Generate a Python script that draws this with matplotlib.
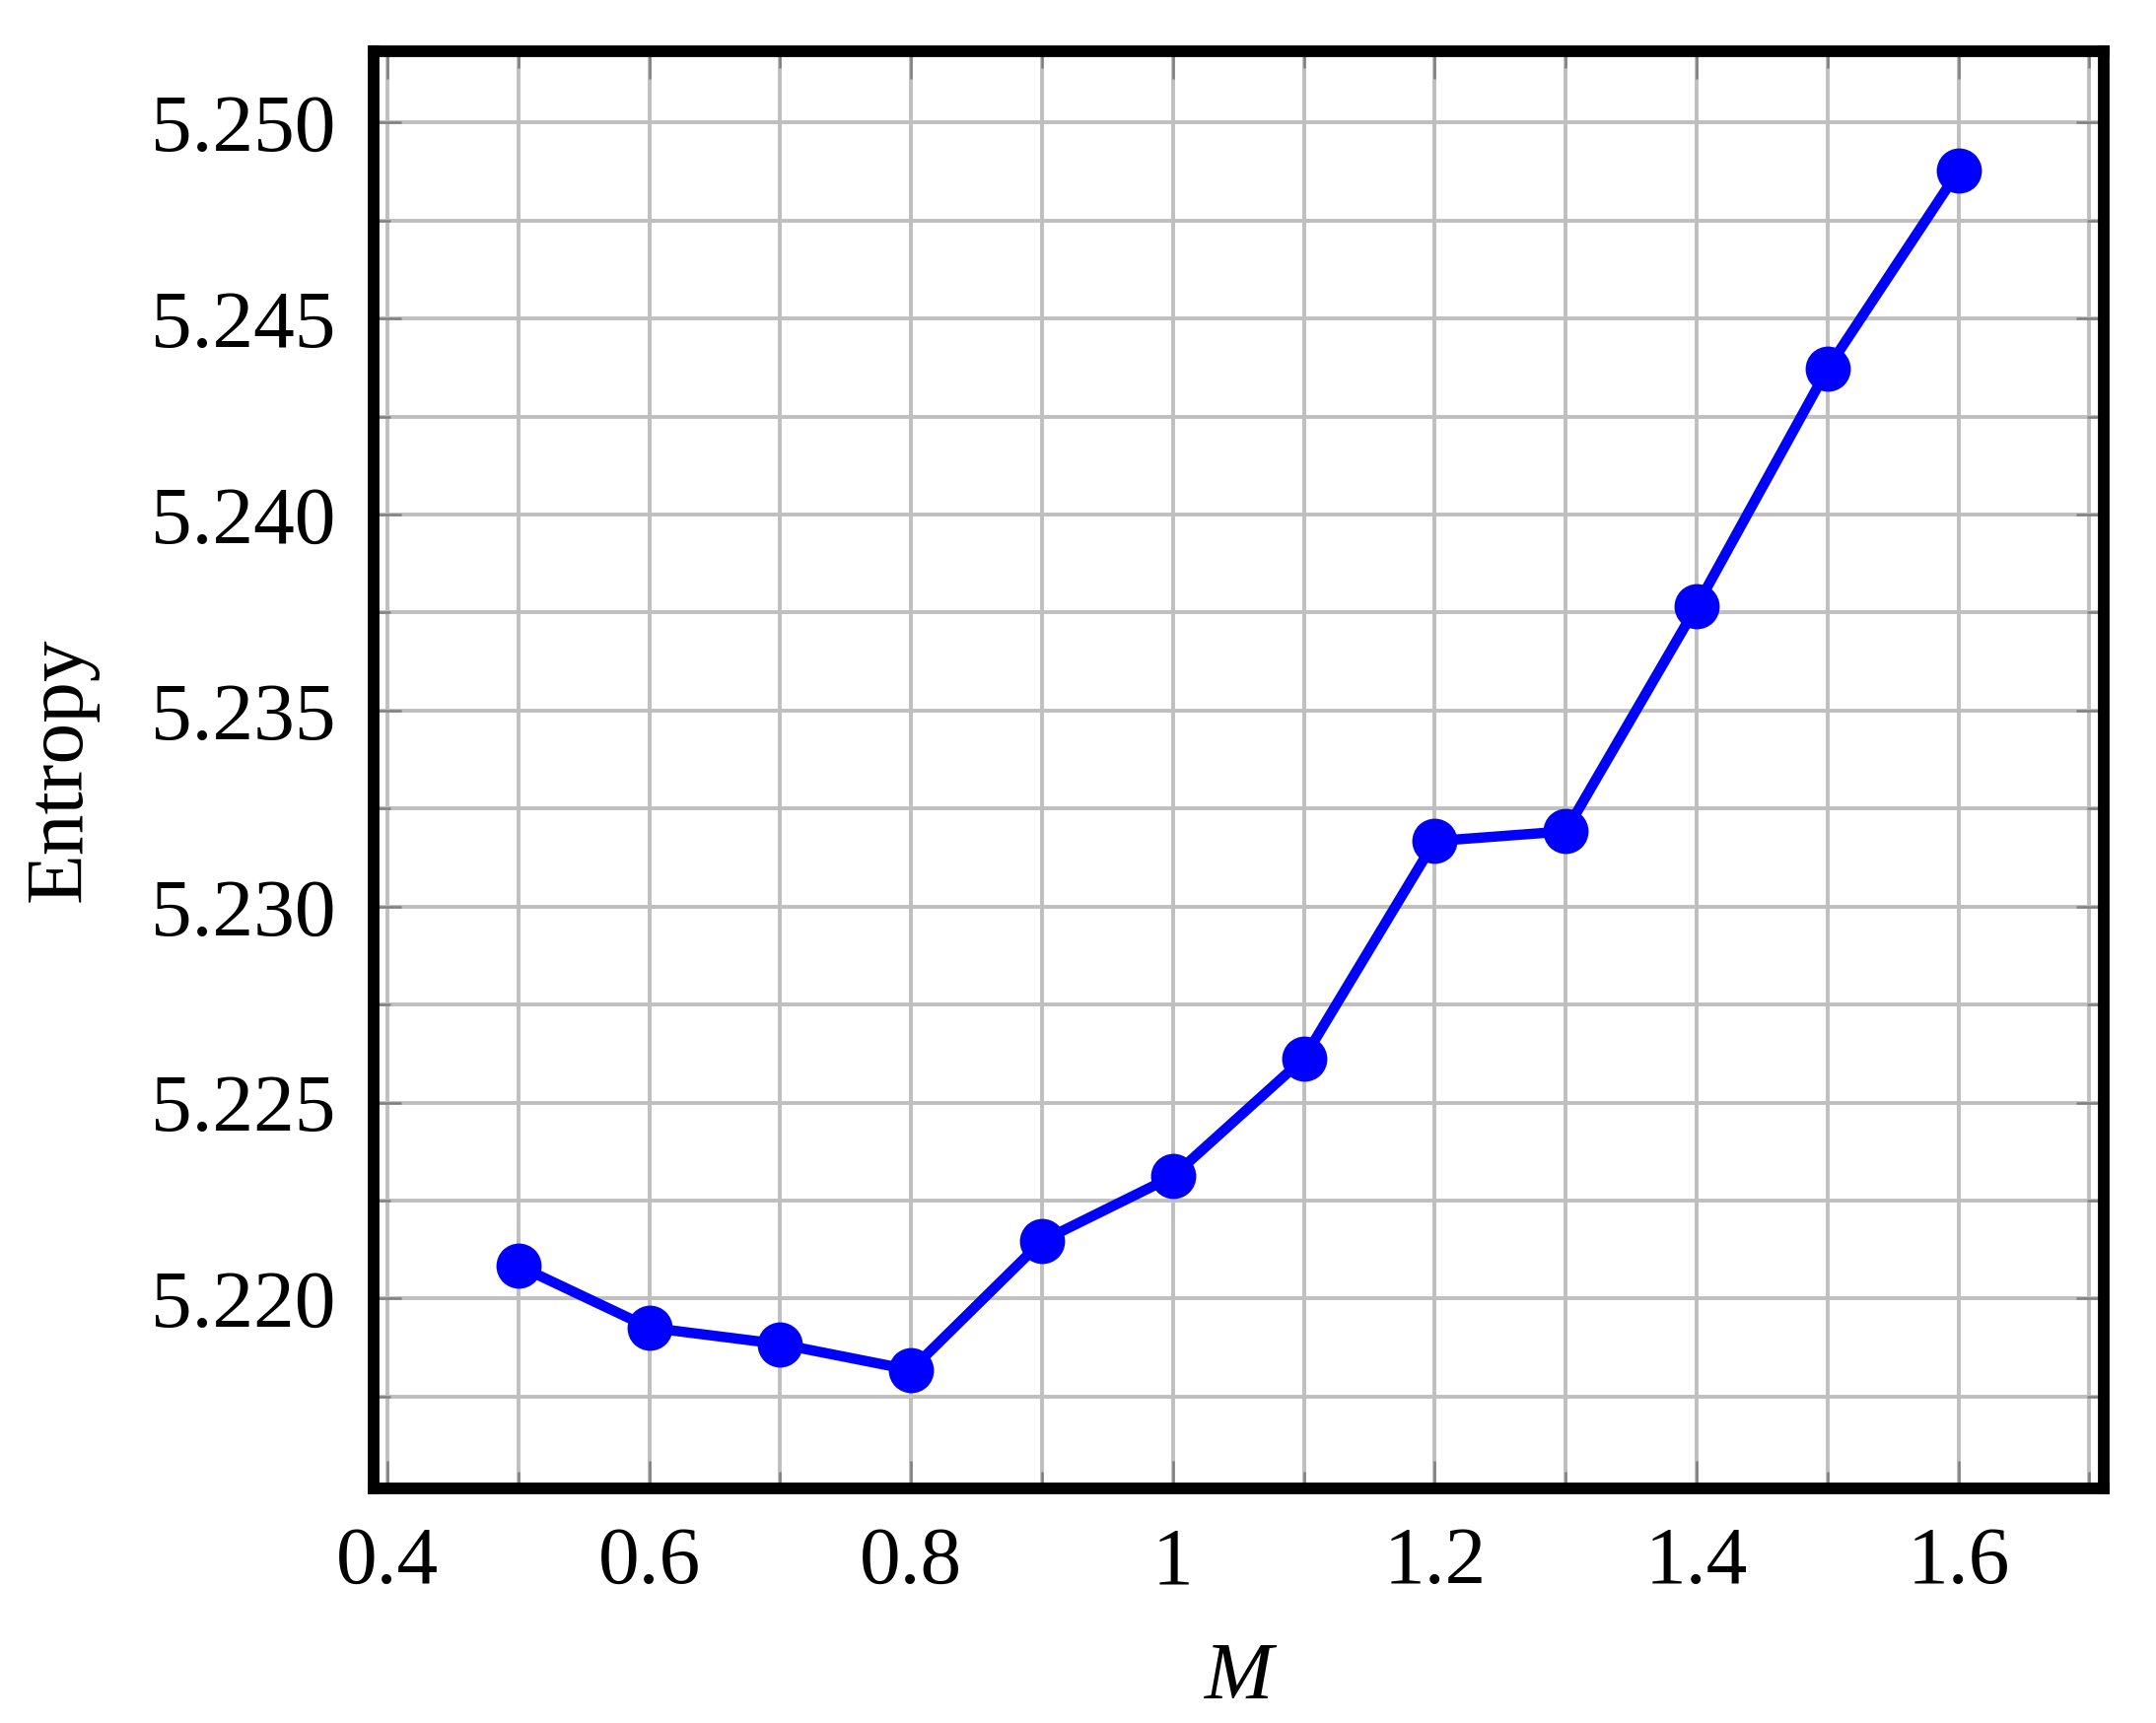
import matplotlib
matplotlib.use("Agg")
import matplotlib.pyplot as plt
from matplotlib.ticker import MultipleLocator, FormatStrFormatter, FuncFormatter

plt.rcParams['font.family'] = ['Liberation Serif', 'DejaVu Serif']

M = [0.5, 0.6, 0.7, 0.8, 0.9, 1.0, 1.1, 1.2, 1.3, 1.4, 1.5, 1.6]
entropy = [5.22084, 5.21926, 5.21884, 5.21818, 5.22147, 5.22312,
           5.22613, 5.23167, 5.23192, 5.23766, 5.24372, 5.24877]

fig = plt.figure(figsize=(21.87, 17.48), dpi=100)
ax = fig.add_axes([0.1733, 0.1362, 0.8025, 0.8341])

ax.plot(M, entropy, color='#0000ff', lw=7.5, marker='o', ms=32, zorder=3)

ax.set_xlim(0.3895, 1.711)
ax.set_ylim(5.21516, 5.25182)

ax.xaxis.set_major_locator(MultipleLocator(0.2))
ax.xaxis.set_minor_locator(MultipleLocator(0.1))
ax.yaxis.set_major_locator(MultipleLocator(0.005))
ax.yaxis.set_minor_locator(MultipleLocator(0.0025))
ax.xaxis.set_major_formatter(FuncFormatter(lambda v, p: '%g' % round(v, 3)))
ax.yaxis.set_major_formatter(FormatStrFormatter('%.3f'))

ax.grid(True, which='both', color='#bfbfbf', lw=2.8, zorder=0)
ax.set_axisbelow(True)

ax.tick_params(which='both', direction='in', top=True, right=True,
               color='#808080', width=1.8, labelsize=60)
ax.tick_params(which='major', length=20, pad=28)
ax.tick_params(which='minor', length=12)

for s in ax.spines.values():
    s.set_linewidth(8.5)
    s.set_color('black')

ax.set_xlabel('M', fontsize=60, style='italic', labelpad=30)
ax.set_ylabel('Entropy', fontsize=60, labelpad=38)

fig.savefig('out.png', dpi=100)
